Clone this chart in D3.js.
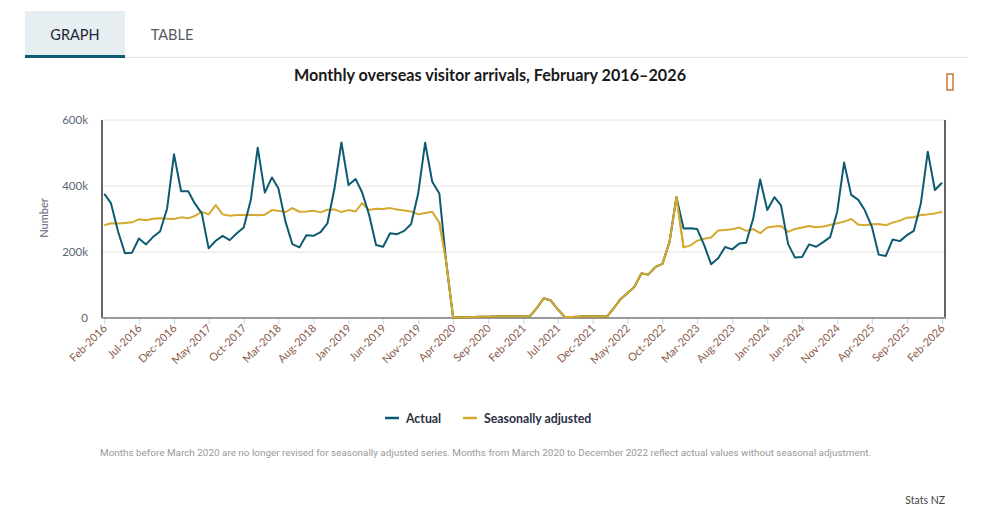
<!DOCTYPE html>
<html>
<head>
<meta charset="utf-8">
<script src="https://cdn.jsdelivr.net/npm/d3@7"></script>
<style>
  html, body { margin: 0; padding: 0; background: #fff; }
  svg { display: block; font-family: Lato, "Open Sans", "DejaVu Sans", sans-serif; }
</style>
</head>
<body>
<svg id="chart" width="992" height="518"></svg>
<script>
// ---- Data ----
const startYear = 2016, startMonth = 1; // Feb 2016 (0-based month)
const actual = [
  376, 348, 262, 196, 198, 241, 223, 246, 262, 332, 496, 384,
  384, 348, 317, 211, 234, 249, 236, 257, 274, 358, 516, 380,
  426, 393, 292, 224, 214, 251, 249, 260, 287, 393, 532, 403,
  421, 381, 312, 221, 216, 257, 254, 264, 285, 378, 531, 413,
  377, 175, 1.5, 2, 2.5, 3, 3.5, 4, 4.5, 5, 5, 5,
  4.5, 5, 30, 60, 53, 27, 3, 3, 4, 5, 5, 4.5,
  4.5, 28, 57, 75, 95, 135, 132, 155, 164, 231, 366, 271,
  272, 270, 221, 163, 181, 215, 208, 226, 228, 302, 420, 327,
  366, 341, 224, 183, 185, 223, 216, 230, 245, 322, 471, 373,
  358, 327, 277, 192, 188, 238, 233, 251, 264, 348, 504, 388,
  410
];
const seasonal = [
  281, 287, 286, 288, 290, 299, 296, 301, 302, 301, 300, 305,
  302, 309, 322, 314, 342, 314, 310, 312, 312, 313, 311, 313,
  327, 325, 321, 333, 322, 323, 325, 320, 328, 329, 321, 327,
  323, 348, 327, 331, 330, 333, 329, 326, 323, 314, 318, 322,
  289, 175, 1.5, 2, 2.5, 3, 3.5, 4, 4.5, 5, 5, 5,
  4.5, 5, 30, 60, 53, 27, 3, 3, 4, 5, 5, 4.5,
  4.5, 28, 57, 75, 95, 135, 132, 155, 164, 231, 366, 214,
  220, 234, 240, 244, 265, 267, 269, 274, 264, 269, 257, 274,
  277, 279, 261, 270, 274, 279, 275, 277, 282, 287, 292, 300,
  283, 281, 284, 285, 281, 289, 295, 304, 305, 312, 314, 317,
  322
];
const yTicks = [0, 200, 400, 600];
const yTickLabels = ["0", "200k", "400k", "600k"];
const monthNames = ["Jan","Feb","Mar","Apr","May","Jun","Jul","Aug","Sep","Oct","Nov","Dec"];
const tickEvery = 5;
const seriesNames = ["Actual", "Seasonally adjusted"];
const seriesColors = ["#0d5b73", "#d4a92e"];
const titleText = "Monthly overseas visitor arrivals, February 2016\u20132026";
const noteText = "Months before March 2020 are no longer revised for seasonally adjusted series. Months from March 2020 to December 2022 reflect actual values without seasonal adjustment.";
const sourceText = "Stats NZ";

const dates = actual.map((_, i) => new Date(startYear, startMonth + i, 1));
const fmt = d => monthNames[d.getMonth()] + "-" + d.getFullYear();

const svg = d3.select("#chart");

// ---- Tabs ----
svg.append("rect").attr("x", 25).attr("y", 11).attr("width", 100).attr("height", 45).attr("fill", "#e6eef1");
svg.append("line").attr("x1", 25).attr("x2", 968).attr("y1", 57.5).attr("y2", 57.5).attr("stroke", "#e1e3e5").attr("stroke-width", 1);
svg.append("rect").attr("x", 25).attr("y", 55).attr("width", 100).attr("height", 3).attr("fill", "#0d5b73");
svg.append("text").attr("x", 75).attr("y", 40).attr("text-anchor", "middle")
  .attr("font-size", 14.5).attr("fill", "#1d2433").text("GRAPH");
svg.append("text").attr("x", 172).attr("y", 40).attr("text-anchor", "middle")
  .attr("font-size", 14.5).attr("fill", "#555b63").text("TABLE");

// ---- Title ----
svg.append("text").attr("x", 490).attr("y", 81).attr("text-anchor", "middle")
  .attr("font-size", 16.2).attr("font-weight", "bold").attr("fill", "#1a1a1a").text(titleText);

// menu icon (tofu-like glyph)
svg.append("rect").attr("x", 947).attr("y", 74).attr("width", 6).attr("height", 16)
  .attr("fill", "none").attr("stroke", "#c87a32").attr("stroke-width", 1.5);

// ---- Scales ----
const margin = { left: 102, right: 945, top: 120, bottom: 318 };
const x = d3.scaleTime().domain([dates[0], dates[dates.length - 1]]).range([104.3, 942]);
const y = d3.scaleLinear().domain([0, 600]).range([margin.bottom, margin.top]);

// gridlines
svg.append("g").selectAll("line").data(yTicks.filter(d => d > 0)).join("line")
  .attr("x1", margin.left).attr("x2", margin.right)
  .attr("y1", d => y(d)).attr("y2", d => y(d))
  .attr("stroke", "#e2e2e2").attr("stroke-width", 1);

// y axis labels
const yAxis = d3.axisLeft(y).tickValues(yTicks).tickFormat((d, i) => yTickLabels[i]).tickSize(0).tickPadding(14);
const gy = svg.append("g").attr("transform", `translate(${margin.left},0)`).call(yAxis);
gy.select(".domain").remove();
gy.selectAll("text").attr("font-size", 11.5).attr("fill", "#5b6675").attr("font-family", "Lato, 'Open Sans', sans-serif");

// y axis line & right border
svg.append("line").attr("x1", margin.left).attr("x2", margin.left).attr("y1", margin.top).attr("y2", margin.bottom)
  .attr("stroke", "#333").attr("stroke-width", 1.5);
svg.append("line").attr("x1", margin.right).attr("x2", margin.right).attr("y1", margin.top).attr("y2", margin.bottom)
  .attr("stroke", "#333").attr("stroke-width", 1.5);

// y axis title
svg.append("text").attr("transform", `translate(48,218) rotate(-90)`).attr("text-anchor", "middle")
  .attr("font-size", 11).attr("fill", "#5b6675").text("Number");

// x axis
const tickDates = dates.filter((_, i) => i % tickEvery === 0);
const xAxis = d3.axisBottom(x).tickValues(tickDates).tickFormat(fmt).tickSize(6).tickPadding(3);
const gx = svg.append("g").attr("transform", `translate(0,${margin.bottom})`).call(xAxis);
gx.select(".domain").remove();
gx.selectAll(".tick line").attr("stroke", "#c9d3e0").attr("stroke-width", 1);
gx.selectAll(".tick text")
  .attr("font-size", 11).attr("fill", "#8a5a48").attr("font-family", "Lato, 'Open Sans', sans-serif")
  .attr("text-anchor", "end").attr("dy", null).attr("y", 0)
  .attr("transform", "translate(3,11) rotate(-45)");
svg.append("line").attr("x1", margin.left).attr("x2", margin.right + 1).attr("y1", margin.bottom).attr("y2", margin.bottom)
  .attr("stroke", "#999").attr("stroke-width", 2);

// ---- Lines ----
const line = d3.line().x((d, i) => x(dates[i])).y(d => y(d));
[seasonal, actual].forEach((s, k) => {
  const color = k === 0 ? seriesColors[1] : seriesColors[0];
  svg.append("path").datum(s).attr("d", line).attr("fill", "none")
    .attr("stroke", color).attr("stroke-width", 2).attr("stroke-linejoin", "round");
});
// seasonal equals actual in this period; keep gold visible on top
svg.append("path").datum(seasonal).attr("d", d3.line().defined((d, i) => i >= 48 && i <= 83).x((d, i) => x(dates[i])).y(d => y(d)))
  .attr("fill", "none").attr("stroke", seriesColors[1]).attr("stroke-width", 2).attr("stroke-linejoin", "round");

// ---- Legend ----
const legend = svg.append("g").attr("transform", "translate(0,418)");
const legendItems = [{ x: 385, name: seriesNames[0], color: seriesColors[0] }, { x: 463, name: seriesNames[1], color: seriesColors[1] }];
legendItems.forEach(it => {
  legend.append("line").attr("x1", it.x).attr("x2", it.x + 14).attr("y1", 0).attr("y2", 0)
    .attr("stroke", it.color).attr("stroke-width", 2.5);
  legend.append("text").attr("x", it.x + 21).attr("y", 4.5).attr("font-size", 12.3).attr("font-weight", "bold")
    .attr("fill", "#2b2f45").text(it.name);
});

// ---- Footnote & source ----
svg.append("text").attr("x", 100).attr("y", 456).attr("font-size", 9.5).attr("fill", "#999")
  .attr("font-family", "'Liberation Sans Narrow', 'Roboto', sans-serif")
  .attr("textLength", 771).attr("lengthAdjust", "spacingAndGlyphs").text(noteText);
svg.append("text").attr("x", 945).attr("y", 504).attr("text-anchor", "end").attr("font-size", 10.5)
  .attr("fill", "#444").text(sourceText);
</script>
</body>
</html>
